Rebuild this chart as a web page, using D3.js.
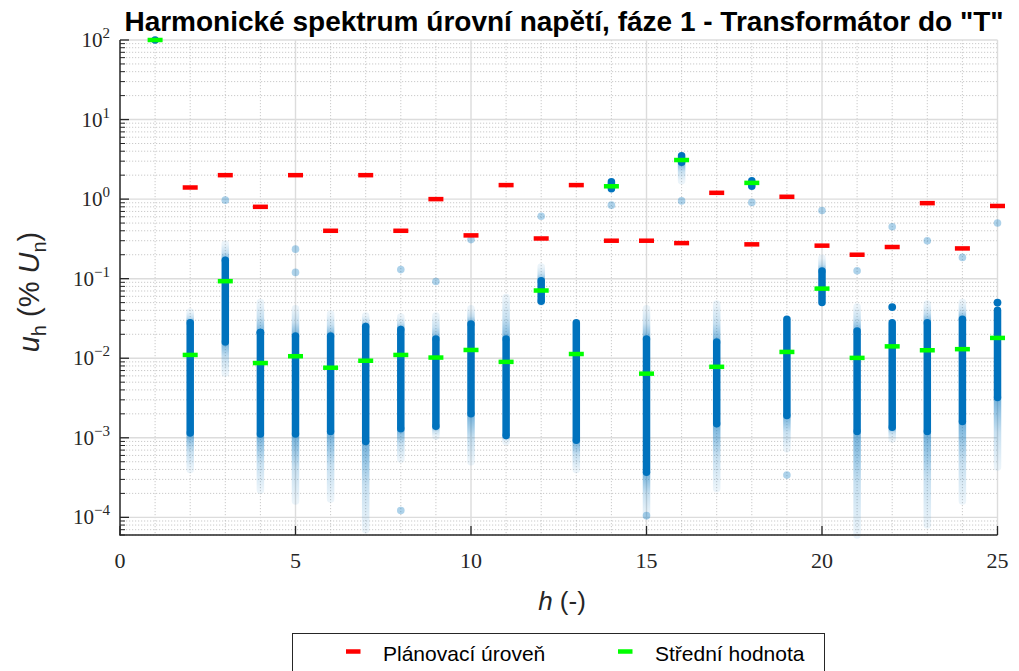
<!DOCTYPE html>
<html>
<head>
<meta charset="utf-8">
<script src="https://cdn.jsdelivr.net/npm/d3@7"></script>
<style>
  html, body { margin: 0; padding: 0; background: #fff; }
  svg { display: block; }
</style>
</head>
<body>
<svg id="chart" width="1019" height="671"></svg>
<script>
// ---------------- DATA ----------------
const harmonics   = [1, 2, 3, 4, 5, 6, 7, 8, 9, 10, 11, 12, 13, 14, 15, 16, 17, 18, 19, 20, 21, 22, 23, 24, 25];
// planning level (red), % Un
const planLevel   = [null, 1.4, 2, 0.8, 2, 0.4, 2, 0.4, 1, 0.35, 1.5, 0.32, 1.5, 0.3, 0.3, 0.28, 1.2, 0.27, 1.07, 0.26, 0.2, 0.25, 0.89, 0.24, 0.82];
// mean value (green), % Un
const meanValue   = [100, 0.011, 0.093, 0.0087, 0.0106, 0.0076, 0.0093, 0.011, 0.0102, 0.0127, 0.009, 0.071, 0.0113, 1.45, 0.0064, 3.1, 0.0078, 1.6, 0.012, 0.075, 0.0101, 0.0141, 0.0126, 0.013, 0.018];
// dense band of measured values
const coreLow     = [100, 0.00115, 0.016, 0.00112, 0.00112, 0.0012, 0.0009, 0.0013, 0.0014, 0.002, 0.00107, 0.052, 0.00093, 1.35, 0.00037, 2.9, 0.0015, 1.45, 0.0019, 0.05, 0.0012, 0.00136, 0.0012, 0.0016, 0.0032];
const coreHigh    = [100, 0.028, 0.17, 0.021, 0.019, 0.019, 0.025, 0.023, 0.0175, 0.027, 0.0175, 0.094, 0.028, 1.65, 0.0175, 3.5, 0.016, 1.7, 0.031, 0.125, 0.022, 0.028, 0.028, 0.031, 0.04];
// sparse (faded) extent of measured values
const tailLow     = [100, 0.0004, 0.0065, 0.00022, 0.00016, 0.00017, 0.00007, 0.00054, 0.00105, 0.0005, 0.0009, 0.05, 0.0004, 1.35, 0.000105, 1.7, 0.00023, 1.45, 0.00073, 0.05, 0.00006, 0.00097, 0.00008, 0.00016, 0.00043];
const tailHigh    = [100, 0.038, 0.27, 0.05, 0.042, 0.036, 0.034, 0.033, 0.034, 0.042, 0.058, 0.14, 0.028, 1.65, 0.042, 3.5, 0.048, 1.7, 0.031, 0.18, 0.044, 0.028, 0.048, 0.05, 0.04];
// isolated faint measured points
const faintH      = [3, 5, 5, 8, 8, 9, 10, 12, 14, 16, 18, 20, 21, 22, 23, 24, 25, 19, 15];
const faintV      = [0.97, 0.235, 0.12, 0.13, 0.000122, 0.092, 0.31, 0.61, 0.84, 0.95, 0.91, 0.72, 0.126, 0.45, 0.3, 0.185, 0.5, 0.00034, 0.000105];
// isolated solid measured points
const solidH      = [22, 25, 4];
const solidV      = [0.044, 0.05, 0.021];

const xTicks      = [0, 5, 10, 15, 20, 25];
const yTickExp    = [-4, -3, -2, -1, 0, 1, 2];

const titleText   = 'Harmonické spektrum úrovní napětí, fáze 1 - Transformátor do "T"';
const legendNames = ["Plánovací úroveň", "Střední hodnota"];

// ---------------- LAYOUT ----------------
const svg = d3.select("#chart");
const L = 120, R = 997.5, T = 40, B = 535;
const x = d3.scaleLinear().domain([0, 25]).range([L, R]);
const y = d3.scaleLog().domain([6e-5, 100]).range([B, T]);

const BLUE = "#0072BD", RED = "#FF0000", GREEN = "#00FF00", AX = "#262626";
const serif = "'Liberation Serif', 'DejaVu Serif', serif";
const sans = "'Liberation Sans', Arial, Helvetica, sans-serif";

svg.append("rect").attr("width", 1019).attr("height", 671).attr("fill", "#fff");

// grid
const g = svg.append("g");
const minorY = [];
for (let e = -5; e <= 1; e++) for (let m = 2; m <= 9; m++) {
  const v = m * Math.pow(10, e);
  if (v >= 6e-5 && v <= 100) minorY.push(v);
}
g.selectAll(".ymin").data(minorY).enter().append("line")
  .attr("x1", L).attr("x2", R).attr("y1", d => y(d)).attr("y2", d => y(d))
  .attr("stroke", "#bdbdbd").attr("stroke-width", 0.8).attr("stroke-dasharray", "1.2,1.8");
const minorX = d3.range(1, 25).filter(d => d % 5 !== 0);
g.selectAll(".xmin").data(minorX).enter().append("line")
  .attr("x1", d => x(d)).attr("x2", d => x(d)).attr("y1", T).attr("y2", B)
  .attr("stroke", "#bdbdbd").attr("stroke-width", 0.8).attr("stroke-dasharray", "1.2,1.8");
g.selectAll(".ymaj").data(yTickExp).enter().append("line")
  .attr("x1", L).attr("x2", R).attr("y1", d => y(Math.pow(10, d))).attr("y2", d => y(Math.pow(10, d)))
  .attr("stroke", "#dcdcdc").attr("stroke-width", 1.4);
g.selectAll(".xmaj").data(xTicks.slice(1)).enter().append("line")
  .attr("x1", d => x(d)).attr("x2", d => x(d)).attr("y1", T).attr("y2", B)
  .attr("stroke", "#dcdcdc").attr("stroke-width", 1.4);

// ---------------- MEASURED POINTS ----------------
const defs = svg.append("defs");
const pts = svg.append("g");
const idx = d3.range(harmonics.length);

function tail(i, from, to, name) {
  const x0 = x(harmonics[i]);
  const y0 = y(from), y1 = y(to);
  if (Math.abs(y1 - y0) < 0.5) return;
  const id = "g" + name + i;
  const gr = defs.append("linearGradient").attr("id", id)
    .attr("gradientUnits", "userSpaceOnUse")
    .attr("x1", x0).attr("x2", x0).attr("y1", y0).attr("y2", y1);
  gr.append("stop").attr("offset", 0).attr("stop-color", BLUE).attr("stop-opacity", 0.55);
  gr.append("stop").attr("offset", 0.5).attr("stop-color", BLUE).attr("stop-opacity", 0.22);
  gr.append("stop").attr("offset", 1).attr("stop-color", BLUE).attr("stop-opacity", 0.08);
  pts.append("line")
    .attr("x1", x0).attr("x2", x0).attr("y1", y0).attr("y2", y1)
    .attr("stroke", `url(#${id})`).attr("stroke-width", 7.5).attr("stroke-linecap", "round");
}
idx.forEach(i => {
  tail(i, coreHigh[i], tailHigh[i], "u");
  tail(i, coreLow[i], tailLow[i], "l");
});
pts.selectAll(".core").data(idx).enter().append("line")
  .attr("x1", i => x(harmonics[i])).attr("x2", i => x(harmonics[i]))
  .attr("y1", i => y(coreHigh[i])).attr("y2", i => y(coreLow[i]))
  .attr("stroke", BLUE).attr("stroke-width", 7.5).attr("stroke-linecap", "round");
pts.selectAll(".faint").data(d3.range(faintH.length)).enter().append("circle")
  .attr("cx", i => x(faintH[i])).attr("cy", i => y(faintV[i])).attr("r", 3.8)
  .attr("fill", BLUE).attr("fill-opacity", 0.32);
pts.selectAll(".solid").data(d3.range(solidH.length)).enter().append("circle")
  .attr("cx", i => x(solidH[i])).attr("cy", i => y(solidV[i])).attr("r", 3.9)
  .attr("fill", BLUE);

// ---------------- PLANNING LEVEL & MEAN ----------------
const dashW = 15, dashH = 4.5;
svg.append("g").selectAll("rect").data(idx.filter(i => planLevel[i] !== null)).enter().append("rect")
  .attr("x", i => x(harmonics[i]) - dashW / 2).attr("y", i => y(planLevel[i]) - dashH / 2)
  .attr("width", dashW).attr("height", dashH).attr("fill", RED);
svg.append("g").selectAll("rect").data(idx).enter().append("rect")
  .attr("x", i => x(harmonics[i]) - dashW / 2).attr("y", i => y(meanValue[i]) - dashH / 2)
  .attr("width", dashW).attr("height", dashH).attr("fill", GREEN);

// ---------------- AXES ----------------
const ax = svg.append("g");
ax.append("line").attr("x1", L).attr("x2", L).attr("y1", T).attr("y2", B + 0.5)
  .attr("stroke", AX).attr("stroke-width", 1.5);
ax.append("line").attr("x1", L - 0.5).attr("x2", R).attr("y1", B).attr("y2", B)
  .attr("stroke", AX).attr("stroke-width", 1.5);
ax.selectAll(".ytk").data(yTickExp).enter().append("line")
  .attr("x1", L).attr("x2", L + 9).attr("y1", d => y(Math.pow(10, d))).attr("y2", d => y(Math.pow(10, d)))
  .attr("stroke", AX).attr("stroke-width", 1.3);
ax.selectAll(".ytm").data(minorY).enter().append("line")
  .attr("x1", L).attr("x2", L + 5).attr("y1", d => y(d)).attr("y2", d => y(d))
  .attr("stroke", AX).attr("stroke-width", 1);
ax.selectAll(".xtk").data(xTicks).enter().append("line")
  .attr("x1", d => x(d)).attr("x2", d => x(d)).attr("y1", B).attr("y2", B - 9)
  .attr("stroke", AX).attr("stroke-width", 1.3);
ax.selectAll(".xl").data(xTicks).enter().append("text")
  .attr("x", d => x(d)).attr("y", 568).attr("text-anchor", "middle")
  .attr("font-family", serif).attr("font-size", 22).attr("fill", AX)
  .text(d => d);
const yl = ax.selectAll(".yl").data(yTickExp).enter().append("text")
  .attr("x", 110).attr("y", d => y(Math.pow(10, d)) + 7).attr("text-anchor", "end")
  .attr("font-family", serif).attr("font-size", 21).attr("fill", AX);
yl.append("tspan").text("10");
yl.append("tspan").attr("font-size", 15).attr("dy", -9).text(d => d < 0 ? "\u2212" + (-d) : d);

// axis titles
const xt = svg.append("text").attr("x", 562).attr("y", 610).attr("text-anchor", "middle")
  .attr("font-family", sans).attr("font-size", 26).attr("fill", AX);
xt.append("tspan").attr("font-style", "italic").text("h");
xt.append("tspan").text(" (-)");

const yt = svg.append("text").attr("transform", "translate(39,292) rotate(-90)")
  .attr("text-anchor", "middle").attr("font-family", sans).attr("font-size", 29).attr("fill", AX);
yt.append("tspan").attr("font-style", "italic").text("u");
yt.append("tspan").attr("font-size", 20).attr("dy", 7).text("h");
yt.append("tspan").attr("dy", -7).text(" (% ");
yt.append("tspan").attr("font-style", "italic").text("U");
yt.append("tspan").attr("font-size", 20).attr("dy", 7).text("n");
yt.append("tspan").attr("dy", -7).text(")");

// title
svg.append("text").attr("x", 564).attr("y", 31).attr("text-anchor", "middle")
  .attr("font-family", sans).attr("font-weight", "bold").attr("font-size", 28).attr("fill", "#000")
  .text(titleText);

// ---------------- LEGEND ----------------
const lg = svg.append("g");
lg.append("rect").attr("x", 292.5).attr("y", 633.5).attr("width", 532).attr("height", 60)
  .attr("fill", "#fff").attr("stroke", AX).attr("stroke-width", 1);
const legendColors = [RED, GREEN];
const legendX = [346, 618];
legendNames.forEach((n, i) => {
  lg.append("rect").attr("x", legendX[i]).attr("y", 651.5 - dashH / 2).attr("width", 14.5).attr("height", dashH)
    .attr("fill", legendColors[i]);
  lg.append("text").attr("x", legendX[i] + 37).attr("y", 661).attr("font-family", sans)
    .attr("font-size", 21).attr("fill", "#000").text(n);
});
</script>
</body>
</html>
